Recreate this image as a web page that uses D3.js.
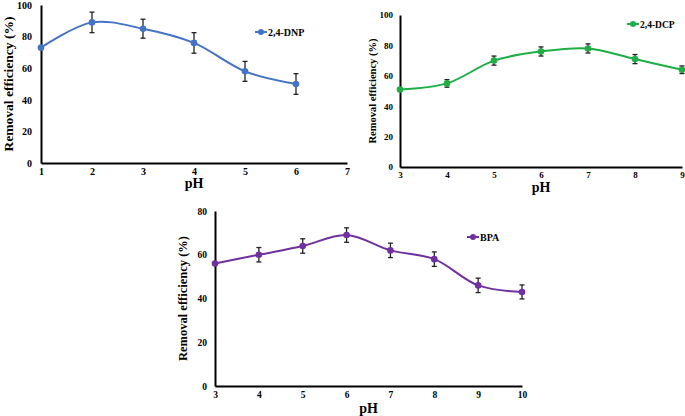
<!DOCTYPE html>
<html><head><meta charset="utf-8">
<script src="https://cdn.jsdelivr.net/npm/d3@7"></script>
<style>body{margin:0;background:#fff}svg{display:block}</style>
</head><body>
<svg id="c" width="685" height="416"></svg>
<script>
// Panel A: 2,4-DNP
const dnpPH = [1, 2, 3, 4, 5, 6];
const dnpVal = [73, 89, 85, 76, 58, 50];
const dnpErr = [0, 6.5, 6, 6.5, 6.3, 6.5];
const dnpXTicks = [1, 2, 3, 4, 5, 6, 7];
const dnpYTicks = [0, 20, 40, 60, 80, 100];
// Panel B: 2,4-DCP
const dcpPH = [3, 4, 5, 6, 7, 8, 9];
const dcpVal = [51, 55, 70, 76, 78, 71, 64];
const dcpErr = [0, 2.5, 3, 3, 3, 3, 2.5];
const dcpXTicks = [3, 4, 5, 6, 7, 8, 9];
const dcpYTicks = [0, 20, 40, 60, 80, 100];
// Panel C: BPA
const bpaPH = [3, 4, 5, 6, 7, 8, 9, 10];
const bpaVal = [56, 60, 64, 69, 62, 58, 46, 43];
const bpaErr = [0, 3.3, 3.3, 3.3, 3.3, 3.3, 3.3, 3.2];
const bpaXTicks = [3, 4, 5, 6, 7, 8, 9, 10];
const bpaYTicks = [0, 20, 40, 60, 80];

const svg = d3.select("#c");
const FONT = "'Liberation Serif','Times New Roman',serif";

function panel(o) {
  const g = svg.append("g");
  const x = d3.scaleLinear().domain(o.xd).range([o.x0, o.x1]);
  const y = d3.scaleLinear().domain(o.yd).range([o.y0, o.y1]);
  const fmt = d3.format("d");
  const xa = g.append("g").attr("transform", `translate(0,${o.y0})`)
    .call(d3.axisBottom(x).tickValues(o.xt).tickFormat(fmt).tickSize(0).tickPadding(o.tp || 5));
  const ya = g.append("g").attr("transform", `translate(${o.x0},0)`)
    .call(d3.axisLeft(y).tickValues(o.yt).tickFormat(fmt).tickSize(0).tickPadding(o.tpy || 8));
  [xa, ya].forEach(a => {
    a.select(".domain").attr("stroke", "#000").attr("stroke-width", 2);
    a.selectAll("text").attr("font-family", FONT).attr("font-weight", "bold")
      .attr("font-size", o.fs).attr("fill", "#000");
  });
  g.append("text").attr("x", (o.x0 + o.x1) / 2).attr("y", o.pHy)
    .attr("text-anchor", "middle").attr("font-family", FONT).attr("font-weight", "bold")
    .attr("font-size", o.tfs).text("pH");
  g.append("text").attr("transform", `translate(${o.ytx},${(o.y0 + o.y1) / 2}) rotate(-90)`)
    .attr("text-anchor", "middle").attr("font-family", FONT).attr("font-weight", "bold")
    .attr("font-size", o.yfs).text("Removal efficiency (%)");
  const data = o.px.map((p, i) => ({ p, v: o.v[i], e: o.e[i] }));
  g.append("path").datum(data)
    .attr("d", d3.line().x(d => x(d.p)).y(d => y(d.v)).curve(d3.curveCatmullRom.alpha(0.5)))
    .attr("fill", "none").attr("stroke", o.c).attr("stroke-width", 2);
  const eb = g.selectAll(".eb").data(data.filter(d => d.e > 0)).enter().append("g");
  eb.append("line").attr("x1", d => x(d.p)).attr("x2", d => x(d.p))
    .attr("y1", d => y(d.v + d.e)).attr("y2", d => y(d.v - d.e)).attr("stroke", "#222").attr("stroke-width", 1.3);
  [1, -1].forEach(s => eb.append("line").attr("x1", d => x(d.p) - 2.5).attr("x2", d => x(d.p) + 2.5)
    .attr("y1", d => y(d.v + s * d.e)).attr("y2", d => y(d.v + s * d.e)).attr("stroke", "#222").attr("stroke-width", 1.3));
  g.selectAll(".m").data(data).enter().append("circle")
    .attr("cx", d => x(d.p)).attr("cy", d => y(d.v)).attr("r", 3.3).attr("fill", o.c);
  g.append("line").attr("x1", o.lx).attr("x2", o.lx + 12).attr("y1", o.ly).attr("y2", o.ly)
    .attr("stroke", o.c).attr("stroke-width", 2);
  g.append("circle").attr("cx", o.lx + 6).attr("cy", o.ly).attr("r", 3).attr("fill", o.c);
  g.append("text").attr("x", o.lx + 13).attr("y", o.ly + 3.5).attr("font-family", FONT)
    .attr("font-weight", "bold").attr("font-size", o.lfs).text(o.name);
}

panel({ xd: [1, 7], yd: [0, 100], x0: 41, x1: 347, y0: 163, y1: 5, xt: dnpXTicks, yt: dnpYTicks,
  px: dnpPH, v: dnpVal, e: dnpErr, c: "#4472C4", name: "2,4-DNP", fs: 10, tfs: 14, yfs: 13.5,
  pHy: 188, ytx: 13, lx: 255, ly: 32, lfs: 10, tp: 5, tpy: 9 });
panel({ xd: [3, 9], yd: [0, 100], x0: 400, x1: 682, y0: 167, y1: 15, xt: dcpXTicks, yt: dcpYTicks,
  px: dcpPH, v: dcpVal, e: dcpErr, c: "#1EAE44", name: "2,4-DCP", fs: 9, tfs: 14, yfs: 10.5,
  pHy: 192, ytx: 376, lx: 627, ly: 24, lfs: 9.5, tp: 5, tpy: 7 });
panel({ xd: [3, 10], yd: [0, 80], x0: 215, x1: 522, y0: 386, y1: 211, xt: bpaXTicks, yt: bpaYTicks,
  px: bpaPH, v: bpaVal, e: bpaErr, c: "#7030A0", name: "BPA", fs: 9.5, tfs: 14, yfs: 12.5,
  pHy: 413, ytx: 187, lx: 467, ly: 237, lfs: 10, tp: 5, tpy: 8 });
</script>
</body></html>
